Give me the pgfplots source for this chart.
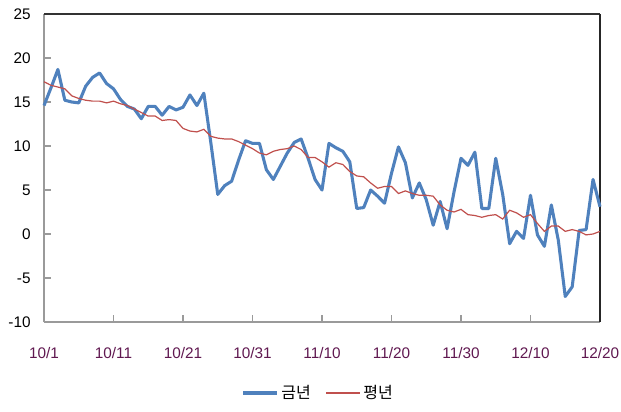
\documentclass[border=0pt]{standalone}
\usepackage{fontspec}
\setmainfont{Liberation Sans}
\newfontfamily\kr{Noto Sans CJK KR}
\usepackage{pgfplots}
\pgfplotsset{compat=1.18}
\definecolor{bl}{HTML}{4F81BD}
\definecolor{rd}{HTML}{C0504D}
\definecolor{xl}{RGB}{96,24,80}
\definecolor{ax}{HTML}{9A9A9A}
\pgfplotstableread{
i v
0 14.6
1 16.6
2 18.7
3 15.2
4 15.0
5 14.9
6 16.8
7 17.8
8 18.3
9 17.1
10 16.5
11 15.3
12 14.5
13 14.2
14 13.1
15 14.5
16 14.5
17 13.5
18 14.5
19 14.1
20 14.4
21 15.8
22 14.6
23 16.0
24 10.4
25 4.5
26 5.5
27 6.0
28 8.4
29 10.6
30 10.3
31 10.3
32 7.3
33 6.2
34 7.7
35 9.2
36 10.4
37 10.8
38 8.6
39 6.2
40 5.0
41 10.3
42 9.8
43 9.4
44 8.2
45 2.9
46 3.0
47 5.0
48 4.3
49 3.5
50 6.9
51 9.9
52 8.1
53 4.1
54 5.8
55 3.9
56 1.0
57 3.7
58 0.6
59 4.8
60 8.6
61 7.8
62 9.3
63 2.9
64 2.9
65 8.6
66 4.5
67 -1.1
68 0.3
69 -0.5
70 4.4
71 -0.1
72 -1.4
73 3.3
74 -0.7
75 -7.1
76 -6.0
77 0.4
78 0.5
79 6.2
80 3.1
}\thisyear
\pgfplotstableread{
i v
0 17.3
1 16.9
2 16.7
3 16.5
4 15.7
5 15.4
6 15.2
7 15.1
8 15.1
9 14.9
10 15.1
11 14.8
12 14.6
13 14.2
14 13.8
15 13.4
16 13.4
17 12.9
18 13.0
19 12.9
20 12.0
21 11.7
22 11.6
23 11.9
24 11.1
25 10.9
26 10.8
27 10.8
28 10.5
29 10.1
30 9.7
31 9.2
32 9.0
33 9.4
34 9.6
35 9.7
36 10.0
37 9.6
38 8.7
39 8.7
40 8.2
41 7.6
42 8.1
43 7.9
44 7.1
45 6.6
46 6.5
47 5.8
48 5.2
49 5.4
50 5.4
51 4.6
52 4.9
53 4.6
54 4.4
55 4.4
56 4.3
57 3.3
58 2.7
59 2.5
60 2.8
61 2.2
62 2.1
63 1.9
64 2.1
65 2.2
66 1.7
67 2.7
68 2.4
69 1.9
70 2.2
71 1.2
72 0.3
73 0.9
74 0.9
75 0.3
76 0.5
77 0.3
78 -0.1
79 0.0
80 0.3
}\normalyear
\begin{document}
\begin{tikzpicture}
\begin{axis}[
  scale only axis,
  width=417pt, height=231pt,
  xmin=0, xmax=80, ymin=-10, ymax=25,
  axis line style={draw=none},
  xtick={0,10,...,80},
  xticklabels={10/1,10/11,10/21,10/31,11/10,11/20,11/30,12/10,12/20},
  ytick={-10,-5,...,25},
  tick align=inside,
  major tick length=5pt,
  tick style={ax, line width=0.8pt},
  xtick pos=bottom, ytick pos=left,
  /pgf/number format/assume math mode=true,
  tick label style={font=\fontsize{11.5}{13}\selectfont},
  xticklabel style={text=xl, yshift=-15.5pt},
  yticklabel style={xshift=-6.5pt},
  clip=false,
  legend style={at={(0.494,-0.2305)}, anchor=center, draw=none, fill=none,
    legend columns=2, font=\kr\fontsize{12}{14}\selectfont,
    /tikz/every even column/.append style={column sep=9pt}},
  legend image code/.code={\draw[#1] (0pt,0pt) -- (25.5pt,0pt);},
]
\draw[ax, line width=1.1pt] (rel axis cs:0,0) -- (rel axis cs:0,1);
\draw[ax, line width=1.1pt] (rel axis cs:0,0) -- (rel axis cs:1,0);
\draw[black!80, line width=1.4pt] (rel axis cs:0,1) -- (rel axis cs:1,1);
\draw[black!85, line width=1.2pt] (rel axis cs:1,1) -- (rel axis cs:1,0);
\addplot[bl, line width=2.3pt, line join=round] table[x=i,y=v] {\thisyear};
\addlegendentry{금년}
\addplot[rd, line width=0.9pt] table[x=i,y=v] {\normalyear};
\addlegendentry{평년}
\end{axis}
\pgfresetboundingbox
\path (current axis.south west) ++(-33pt,-66.75pt) rectangle ++(465.75pt,308.25pt);
\end{tikzpicture}
\end{document}
